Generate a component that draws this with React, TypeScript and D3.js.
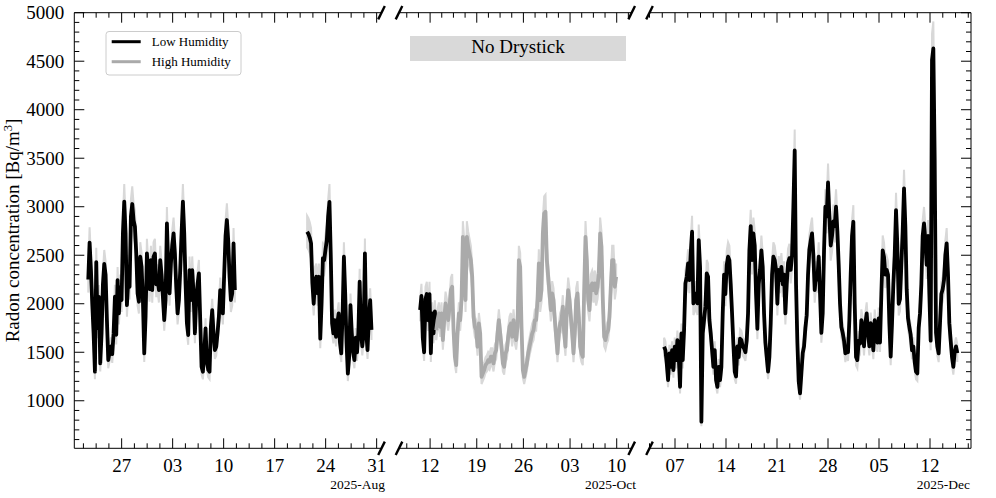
import React from "react";
import * as d3 from "d3";

// ---------------- DATA ----------------
// Low humidity, segment A (panel 1)
const lowAStart = "2025-07-22T10:00";
const lowAEnd = "2025-08-11T13:00";
const lowA = [
  2250, 2630, 2350, 2000, 1694, 1300, 2430, 1750, 2070, 1385,
  1700, 2200, 2410, 2300, 1830, 1420, 1500, 1560, 1480, 1694,
  2072, 1680, 2244, 1900, 2170, 2038, 2725, 3052, 2725, 1986,
  2244, 2175, 2900, 3028, 2860, 2794, 2519, 2107, 2021, 2485,
  2381, 2038, 1488, 1866, 2519, 2300, 2150, 2450, 2140, 2485,
  2519, 2200, 2270, 2141, 2450, 2300, 2072, 1832, 2038, 2828,
  2400, 2107, 2416, 2600, 2725, 2519, 2175, 1900, 2038, 2347,
  2725, 3052, 2725, 2210, 1800, 1677, 2347, 2038, 2347, 2107,
  1694, 2038, 2200, 2313, 1832, 1350, 1299, 1488, 1746, 1400,
  1320, 1299, 1763, 1935, 1694, 1522, 1557, 1700, 1866, 2141,
  2038, 1900, 2313, 2700, 2863, 2650, 2278, 2038, 2107, 2622,
  2141,
];

// Low humidity, segment B (panel 1)
const lowBStart = "2025-08-21T11:00";
const lowBEnd = "2025-08-30T07:00";
const lowB = [
  2742, 2720, 2680, 2622, 2210, 2000, 2244, 2278, 2107, 2278,
  1640, 2000, 2470, 2450, 2560, 2656, 2900, 3050, 2500, 1800,
  1694, 1830, 1660, 1800, 1900, 1600, 1488, 1900, 2485, 2100,
  1600, 1280, 1450, 1986, 1700, 1500, 1420, 1650, 1500, 1700,
  2227, 1700, 1560, 1700, 2520, 1700, 1522, 1850, 2038, 1730,
];

// Low humidity, segment C (panel 2)
const lowCStart = "2025-09-10T12:00";
const lowCEnd = "2025-09-12T22:00";
const lowC = [1935, 2080, 1650, 1500, 2050, 2100, 1830, 2100, 1490, 1900, 1694, 1920, 1730];

// High humidity (panel 2)
const highStart = "2025-09-12T22:00";
const highEnd = "2025-10-09T22:00";
const high = [
  1728, 1832, 1900, 1763, 1900, 1625, 1832, 2004, 1935, 1832,
  1970, 2141, 2175, 1728, 1454, 1368, 1694, 1900, 1832, 2038,
  2690, 2519, 2038, 2690, 2588, 2519, 2450, 2278, 1866, 1763,
  1728, 1557, 1797, 1694, 1247, 1282, 1316, 1368, 1385, 1419,
  1402, 1454, 1454, 1385, 1488, 1522, 1694, 1832, 1694, 1557,
  1385, 1350, 1488, 1522, 1660, 1763, 1797, 1660, 1832, 1694,
  1625, 1763, 2450, 2381, 1763, 1316, 1247, 1316, 1385, 1488,
  1557, 1625, 1694, 1728, 1832, 1832, 2038, 2416, 2038, 2141,
  2725, 2931, 2948, 2450, 2278, 2107, 1935, 2107, 2038, 1832,
  1660, 1488, 1694, 1797, 1832, 1970, 1694, 1557, 1935, 2141,
  2038, 1866, 1694, 1488, 1694, 2038, 2107, 1866, 1557, 1488,
  1454, 2141, 2690, 2450, 2038, 1935, 2175, 2210, 2141, 2210,
  2107, 2175, 2313, 2725, 2588, 2038, 1660, 1625, 1694, 1728,
  1866, 2175, 2450, 2450, 2175, 2278,
];

// Low humidity, segment E (panel 3)
const lowEStart = "2025-11-05T12:00";
const lowEEnd = "2025-12-15T18:00";
const lowE = [
  1557, 1522, 1385, 1213, 1488, 1350, 1522, 1316, 1557, 1419,
  1625, 1454, 1144, 1694, 1419, 1728, 2210, 2278, 2416, 2244,
  2519, 2742, 2004, 2038, 2107, 2004, 2656, 2381, 784, 1694,
  1832, 1970, 2313, 2278, 1832, 1694, 1522, 1350, 1522, 1213,
  1144, 1350, 1213, 1350, 1900, 2300, 2100, 2400, 2485, 2450,
  2200, 1900, 1580, 1300, 1250, 1560, 1450, 1640, 1625, 1560,
  1540, 1500, 1620, 1900, 2550, 2800, 2450, 2725, 2600, 2100,
  1740, 2200, 2350, 2550, 2380, 1900, 1600, 1450, 1300, 1450,
  1800, 2300, 2485, 2450, 2350, 2000, 2350, 2244, 2380, 2200,
  2300, 1900, 2200, 2420, 2470, 2350, 2500, 3000, 3580, 2200,
  1600, 1200, 1076, 1280, 1490, 1560, 1750, 1880, 2300, 2560,
  2650, 2725, 2500, 2140, 2300, 2250, 2485, 2100, 1700, 1900,
  2550, 3000, 2900, 3250, 2900, 2600, 2700, 2850, 2800, 3000,
  2750, 2400, 2000, 1760, 1700, 1620, 1488, 1560, 1500, 1830,
  2300, 2700, 2845, 2000, 1450, 1419, 1620, 1590, 1832, 1750,
  1560, 1800, 1900, 1700, 1560, 1800, 1650, 1520, 1830, 1700,
  1600, 1850, 1600, 2100, 2550, 2480, 2300, 2350, 2300, 1800,
  1454, 1800, 2200, 2500, 2966, 2600, 2000, 2050, 2400, 2750,
  3189, 2800, 2150, 1850, 1760, 1680, 1520, 1560, 1400, 1300,
  1282, 1750, 1900, 2200, 2700, 2828, 2650, 2400, 2700, 2100,
  1619, 4512, 4632, 3500, 1700, 1557, 1488, 1800, 2100, 2150,
  2244, 2500, 2622, 2300, 1800, 1620, 1450, 1350, 1500, 1560,
  1490,
];

const relUncertainty = 0.06;

// axis data
const panelDomains = [
  ["2025-07-20T12:00", "2025-08-31T16:00"],
  ["2025-09-07T08:00", "2025-10-12T06:00"],
  ["2025-11-03T12:00", "2025-12-17T15:00"],
];
const panelMajorTicks = [
  ["2025-07-27", "2025-08-03", "2025-08-10", "2025-08-17", "2025-08-24", "2025-08-31"],
  ["2025-09-12", "2025-09-19", "2025-09-26", "2025-10-03", "2025-10-10"],
  ["2025-11-07", "2025-11-14", "2025-11-21", "2025-11-28", "2025-12-05", "2025-12-12"],
];
const panelOffsetLabels = ["2025-Aug", "2025-Oct", "2025-Dec"];
const yDomain = [510, 5000];
const yMajorTicks = [1000, 1500, 2000, 2500, 3000, 3500, 4000, 4500, 5000];
const seriesNames = ["Low Humidity", "High Humidity"];
const annotation = "No Drystick";

// ---------------- LAYOUT / STYLE ----------------
const W = 996;
const H = 498;
const TOP = 12.7;
const BOTTOM = 448.3;
const panelX = [
  [74.3, 381.5],
  [399, 631.7],
  [649.5, 971],
];
const offsetLabelX = [385, 636, 970];
const COLORS = { low: "#000000", high: "#aaaaaa", band: "#d8d8d8" };
const FONT = "'Liberation Serif', 'Times New Roman', Times, serif";
const MAJOR_LEN = 10;
const MINOR_LEN = 5;
const DATA_WIDTH = 3.8;

const parse = (s: string) => new Date(s);

type Pt = { t: Date; v: number };
function toPoints(start: string, end: string, vals: number[]): Pt[] {
  const idx = d3.scaleLinear().domain([0, vals.length - 1]).range([parse(start).getTime(), parse(end).getTime()]);
  return vals.map((v, i) => ({ t: new Date(idx(i)), v }));
}

const segments = [
  { panel: 0, series: "low", pts: toPoints(lowAStart, lowAEnd, lowA) },
  { panel: 0, series: "low", pts: toPoints(lowBStart, lowBEnd, lowB) },
  { panel: 1, series: "low", pts: toPoints(lowCStart, lowCEnd, lowC) },
  { panel: 1, series: "high", pts: toPoints(highStart, highEnd, high) },
  { panel: 2, series: "low", pts: toPoints(lowEStart, lowEEnd, lowE) },
];

export default function App() {
  const y = d3.scaleLinear().domain(yDomain).range([BOTTOM, TOP]);
  const xs = panelDomains.map((dom, i) =>
    d3.scaleTime().domain([parse(dom[0]), parse(dom[1])]).range(panelX[i])
  );

  const yMinor: number[] = [];
  for (let v = Math.ceil(yDomain[0] / 100) * 100; v <= yDomain[1]; v += 100) {
    if (v % 500 !== 0) yMinor.push(v);
  }

  const minorX = (i: number) => {
    const majors = panelMajorTicks[i].map(parse);
    const [d0, d1] = xs[i].domain();
    const step = 1.75 * 24 * 3600 * 1000;
    const out: Date[] = [];
    const base = majors[0].getTime();
    for (let k = -20; k < 100; k++) {
      if (k % 4 === 0) continue;
      const t = base + k * step;
      if (t >= d0.getTime() && t <= d1.getTime()) out.push(new Date(t));
    }
    return out;
  };

  const slash = (xe: number, ye: number, key: string) => (
    <line key={key} x1={xe - 3.3} y1={ye + 6.7} x2={xe + 3.3} y2={ye - 6.7} stroke="#000" strokeWidth={2.4} />
  );

  return (
    <svg
      width={W}
      height={H}
      viewBox={`0 0 ${W} ${H}`}
      style={{ position: "absolute", left: 0, top: 0, display: "block", background: "#fff" }}
      fontFamily={FONT}
    >
      <rect x={0} y={0} width={W} height={H} fill="#fff" />
      <defs>
        {panelX.map((p, i) => (
          <clipPath id={`clip${i}`} key={i}>
            <rect x={p[0]} y={TOP} width={p[1] - p[0]} height={BOTTOM - TOP} />
          </clipPath>
        ))}
      </defs>

      {/* data */}
      {[0, 1, 2].map((pi) => {
        const x = xs[pi];
        const area = d3
          .area<Pt>()
          .x((d) => x(d.t))
          .y0((d) => y(d.v * (1 - relUncertainty)))
          .y1((d) => y(d.v * (1 + relUncertainty)));
        const line = d3
          .line<Pt>()
          .x((d) => x(d.t))
          .y((d) => y(d.v));
        const segs = segments.filter((s) => s.panel === pi);
        return (
          <g key={pi} clipPath={`url(#clip${pi})`}>
            {segs.map((s, j) => (
              <path key={`a${j}`} d={area(s.pts) || ""} fill={COLORS.band} stroke={COLORS.band} strokeWidth={2} />
            ))}
            {segs.map((s, j) => (
              <path
                key={`l${j}`}
                d={line(s.pts) || ""}
                fill="none"
                stroke={s.series === "low" ? COLORS.low : COLORS.high}
                strokeWidth={DATA_WIDTH}
                strokeLinejoin="round"
              />
            ))}
          </g>
        );
      })}

      {/* axes */}
      {[0, 1, 2].map((pi) => {
        const x = xs[pi];
        const [l, r] = panelX[pi];
        const majors = panelMajorTicks[pi].map(parse);
        const minors = minorX(pi);
        const fmt = d3.timeFormat("%d");
        return (
          <g key={`ax${pi}`} stroke="#000" strokeWidth={1}>
            <line x1={l} x2={r} y1={TOP} y2={TOP} />
            <line x1={l} x2={r} y1={BOTTOM} y2={BOTTOM} />
            {majors.map((d, k) => (
              <g key={`M${k}`}>
                <line x1={x(d)} x2={x(d)} y1={BOTTOM} y2={BOTTOM - MAJOR_LEN} />
                <line x1={x(d)} x2={x(d)} y1={TOP} y2={TOP + MAJOR_LEN} />
                <text
                  x={x(d)}
                  y={471.5}
                  textAnchor="middle"
                  fontSize={19}
                  stroke="none"
                  fill="#000"
                >
                  {fmt(d)}
                </text>
              </g>
            ))}
            {minors.map((d, k) => (
              <g key={`m${k}`}>
                <line x1={x(d)} x2={x(d)} y1={BOTTOM} y2={BOTTOM - MINOR_LEN} />
                <line x1={x(d)} x2={x(d)} y1={TOP} y2={TOP + MINOR_LEN} />
              </g>
            ))}
            <text
              x={offsetLabelX[pi]}
              y={488.5}
              textAnchor="end"
              fontSize={13.5}
              stroke="none"
              fill="#000"
            >
              {panelOffsetLabels[pi]}
            </text>
            {pi === 0 && (
              <g>
                <line x1={l} x2={l} y1={TOP} y2={BOTTOM} />
                {yMajorTicks.map((v) => (
                  <g key={`yl${v}`}>
                    <line x1={l} x2={l + MAJOR_LEN} y1={y(v)} y2={y(v)} />
                    <text
                      x={l - 10}
                      y={y(v)}
                      dy="0.34em"
                      textAnchor="end"
                      fontSize={19}
                      stroke="none"
                      fill="#000"
                    >
                      {v}
                    </text>
                  </g>
                ))}
                {yMinor.map((v) => (
                  <line key={`ym${v}`} x1={l} x2={l + MINOR_LEN} y1={y(v)} y2={y(v)} />
                ))}
              </g>
            )}
            {pi === 2 && (
              <g>
                <line x1={r} x2={r} y1={TOP} y2={BOTTOM} />
                {yMajorTicks.map((v) => (
                  <line key={`yr${v}`} x1={r} x2={r - MAJOR_LEN} y1={y(v)} y2={y(v)} />
                ))}
                {yMinor.map((v) => (
                  <line key={`yrm${v}`} x1={r} x2={r - MINOR_LEN} y1={y(v)} y2={y(v)} />
                ))}
              </g>
            )}
          </g>
        );
      })}

      {/* break marks */}
      {[panelX[0][1], panelX[1][0], panelX[1][1], panelX[2][0]].map((xe, i) => (
        <g key={`br${i}`}>
          {slash(xe, TOP, `t${i}`)}
          {slash(xe, BOTTOM, `b${i}`)}
        </g>
      ))}

      {/* y label */}
      <text transform="translate(18.5, 230.5) rotate(-90)" textAnchor="middle" fontSize={19} fill="#000">
        Radon concentration [Bq/m
        <tspan dy={-7} fontSize={12.5}>3</tspan>
        <tspan dy={7}>]</tspan>
      </text>

      {/* annotation */}
      <rect x={410} y={36} width={216} height={25} fill="#d9d9d9" />
      <text x={518} y={53} textAnchor="middle" fontSize={19} fill="#000">
        {annotation}
      </text>

      {/* legend */}
      <g>
        <rect x={106} y={31.5} width={135} height={43.5} rx={3} fill="#fff" fillOpacity={0.8} stroke="#cccccc" strokeWidth={1} />
        <line x1={111.7} x2={140.7} y1={41.7} y2={41.7} stroke={COLORS.low} strokeWidth={3} />
        <line x1={111.7} x2={140.7} y1={61.7} y2={61.7} stroke={COLORS.high} strokeWidth={3} />
        <text x={151.7} y={46.2} fontSize={13} fill="#000">
          {seriesNames[0]}
        </text>
        <text x={151.7} y={66.2} fontSize={13} fill="#000">
          {seriesNames[1]}
        </text>
      </g>
    </svg>
  );
}
